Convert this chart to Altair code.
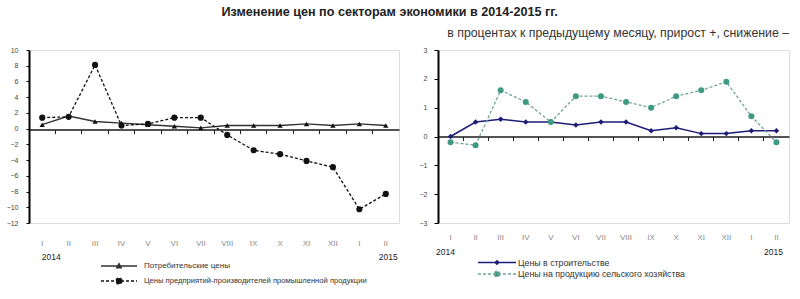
import altair as alt
import pandas as pd

# ---------------- data ----------------
months = ["I", "II", "III", "IV", "V", "VI", "VII", "VIII", "IX", "X", "XI", "XII", "I", "II"]
consumer = [0.5, 1.6, 0.9, 0.7, 0.5, 0.3, 0.1, 0.4, 0.4, 0.4, 0.6, 0.4, 0.6, 0.4]
producer = [1.4, 1.5, 8.1, 0.4, 0.6, 1.4, 1.4, -0.8, -2.75, -3.25, -4.1, -4.9, -10.25, -8.3]
construction = [0.0, 0.5, 0.6, 0.5, 0.5, 0.4, 0.5, 0.5, 0.2, 0.3, 0.1, 0.1, 0.2, 0.2]
agriculture = [-0.2, -0.3, 1.6, 1.2, 0.5, 1.4, 1.4, 1.2, 1.0, 1.4, 1.6, 1.9, 0.7, -0.2]

left_ticks = list(range(-12, 11, 2))
right_ticks = list(range(-3, 4))

name_consumer = "Потребительские цены"
name_producer = "Цены предприятий-производителей  промышленной продукции"
name_construction = "Цены  в строительстве"
name_agriculture = "Цены на продукцию сельского хозяйства"

title_text = "Изменение цен по секторам экономики в 2014-2015 гг."
subtitle_text = "в процентах к предыдущему месяцу, прирост +, снижение –"

FONT = "Liberation Sans"
AXIS_COLOR = "#000000"


def frame(values, name):
    return pd.DataFrame({"i": list(range(len(values))), "v": values, "s": name})


roman_expr = "[" + ",".join("'%s'" % m for m in months) + "][datum.value]"
year_expr = "datum.value == 0 ? '2014' : (datum.value == 13 ? '2015' : '')"


def sym(kind, r):
    base = "M-1,0L1,0"
    if kind == "circle":
        return base + "M%g,0A%g,%g,0,1,1,%g,0A%g,%g,0,1,1,%g,0Z" % (r, r, r, -r, r, r, r)
    if kind == "triangle":
        return base + "M0,%gL%g,%gL%g,%gZ" % (-r, r, 0.8 * r, -r, 0.8 * r)
    return base + "M0,%gL%g,0L0,%gL%g,0Z" % (-r, r, r, -r)


def x_scale():
    return alt.Scale(type="band", paddingInner=0, paddingOuter=0, domain=list(range(14)))


def zero_axis(offset):
    return alt.Axis(orient="bottom", offset=offset, labels=False, ticks=True, tickSize=4,
                    tickColor="#222", tickWidth=1, domainColor="#1a1a1a", domainWidth=1.5,
                    bandPosition=0, title=None, grid=False)


def month_axis(pad):
    return alt.Axis(orient="bottom", labelExpr=roman_expr, domain=False, ticks=False,
                    labelPadding=pad, labelFontSize=8, labelColor="#8a8a8a", title=None,
                    labelAngle=0, grid=False)


def year_axis(pad, off_first, off_last):
    return alt.Axis(orient="bottom", labelExpr=year_expr, domain=False, ticks=False,
                    labelPadding=pad, labelFontSize=8.5, labelColor="#222", title=None,
                    labelAngle=0, grid=False,
                    labelOffset={"condition": {"test": "datum.value == 0", "value": off_first},
                                 "value": off_last})


def legend(x, y, path, size, stroke, fill, dash=None, gap=7, fs=8):
    kw = dict(orient="none", legendX=x, legendY=y, title=None, symbolType=path,
              symbolSize=size, symbolStrokeWidth=1.3, symbolFillColor=fill,
              symbolStrokeColor=stroke, labelFontSize=fs, labelColor="#333",
              labelFont=FONT, labelOffset=gap, padding=0, symbolOpacity=1, labelLimit=0)
    if dash:
        kw["symbolDash"] = dash
    return alt.Legend(**kw)


def y_axis(vals, tick, pad, show):
    if not show:
        return None
    return alt.Axis(values=vals, tickSize=tick, labelPadding=pad, labelFontSize=7,
                    labelColor="#444", domainColor=AXIS_COLOR, domainWidth=2, tickColor=AXIS_COLOR,
                    tickWidth=1, grid=False, title=None, labels=True, labelOverlap=False,
                    domain=True, ticks=True)


# ---------------- left panel ----------------
LW, H = 370, 173
lys = alt.Scale(domain=[-12, 10], nice=False, zero=False)

c_df = frame(consumer, name_consumer)
p_df = frame(producer, name_producer)

l1 = alt.Chart(c_df).mark_line(strokeWidth=1.4).encode(
    x=alt.X("i:O", scale=x_scale(), axis=zero_axis(-93.4)),
    y=alt.Y("v:Q", scale=lys, axis=y_axis(left_ticks, 3, 8, True)),
    color=alt.Color("s:N", scale=alt.Scale(domain=[name_consumer], range=["#333333"]),
                    legend=legend(71, 197, sym("triangle", 0.13), 1296, "#333333", "#111111", None, 6)),
)
l2 = alt.Chart(c_df).mark_point(shape="triangle-up", filled=True, size=28, color="#111", opacity=1).encode(
    x=alt.X("i:O", scale=x_scale(), axis=month_axis(16)),
    y=alt.Y("v:Q", scale=lys, axis=None),
)
l3 = alt.Chart(p_df).mark_line(strokeWidth=1.3, strokeDash=[3, 2]).encode(
    x=alt.X("i:O", scale=x_scale(), axis=year_axis(29, 9, 2.5)),
    y=alt.Y("v:Q", scale=lys, axis=None),
    color=alt.Color("s:N", scale=alt.Scale(domain=[name_producer], range=["#111111"]),
                    legend=legend(71, 212, sym("circle", 0.17), 1296, "#111111", "#111111", [3, 2], 6, 7.6)),
)
l4 = alt.Chart(p_df).mark_circle(size=38, color="#111", opacity=1).encode(
    x=alt.X("i:O", scale=x_scale(), axis=None),
    y=alt.Y("v:Q", scale=lys, axis=None),
)
left = alt.layer(l1, l2, l3, l4).resolve_axis(x="independent", y="independent").resolve_scale(
    color="independent").properties(width=LW, height=H)

# ---------------- right panel ----------------
RW = 351
rys = alt.Scale(domain=[-3, 3], nice=False, zero=False)

k_df = frame(construction, name_construction)
a_df = frame(agriculture, name_agriculture)

NAVY = "#1d1d78"
TEAL = "#3f9a82"
TEAL_LINE = "#72a597"

r1 = alt.Chart(k_df).mark_line(strokeWidth=1.5).encode(
    x=alt.X("i:O", scale=x_scale(), axis=zero_axis(-86.5)),
    y=alt.Y("v:Q", scale=rys, axis=y_axis(right_ticks, 4, 7, True)),
    color=alt.Color("s:N", scale=alt.Scale(domain=[name_construction], range=[NAVY]),
                    legend=legend(39, 192.5, sym("diamond", 0.1), 1444, NAVY, NAVY, None, 1, 8.8)),
)
r2 = alt.Chart(k_df).mark_point(shape="diamond", filled=True, size=30, color=NAVY, opacity=1).encode(
    x=alt.X("i:O", scale=x_scale(), axis=month_axis(10)),
    y=alt.Y("v:Q", scale=rys, axis=None),
)
r3 = alt.Chart(a_df).mark_line(strokeWidth=1.3, strokeDash=[3, 2]).encode(
    x=alt.X("i:O", scale=x_scale(), axis=year_axis(24, -5, -3)),
    y=alt.Y("v:Q", scale=rys, axis=None),
    color=alt.Color("s:N", scale=alt.Scale(domain=[name_agriculture], range=[TEAL_LINE]),
                    legend=legend(39, 204, sym("circle", 0.15), 1444, TEAL_LINE, TEAL, [3, 2], 1, 8.8)),
)
r4 = alt.Chart(a_df).mark_circle(size=36, color=TEAL, opacity=1).encode(
    x=alt.X("i:O", scale=x_scale(), axis=None),
    y=alt.Y("v:Q", scale=rys, axis=None),
)
right = alt.layer(r1, r2, r3, r4).resolve_axis(x="independent", y="independent").resolve_scale(
    color="independent").properties(
    width=RW, height=H,
    title=alt.TitleParams(subtitle_text, anchor="end", fontSize=12.3, fontWeight="normal",
                          color="#333", font=FONT, offset=7),
)

chart = alt.hconcat(left, right, spacing=39, bounds="flush").resolve_scale(
    color="independent").properties(
    title=alt.TitleParams(title_text, anchor="middle", fontSize=12.6, fontWeight="bold",
                          color="#222", font=FONT, dx=-8, offset=8),
).configure_view(stroke=None).configure(font=FONT)

chart.save("out.html", embed_options={"renderer": "svg", "actions": False})
